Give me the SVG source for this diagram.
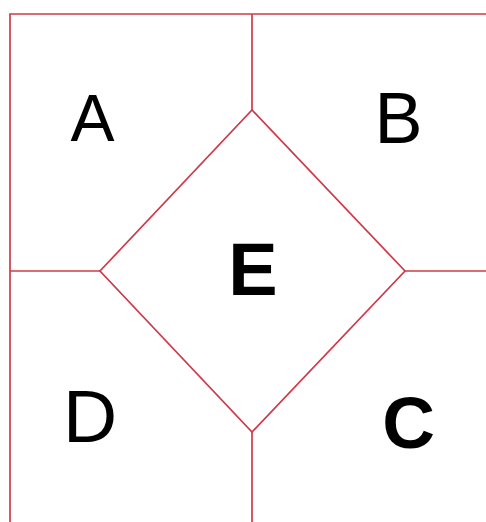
<svg xmlns="http://www.w3.org/2000/svg" width="486" height="522" viewBox="0 0 486 522">
<style>
.ln{stroke:#cf3a4a;stroke-width:1.7;fill:none;}
.t{font-family:"Liberation Sans",Arial,sans-serif;fill:#000;text-anchor:middle;}
.b{font-weight:bold;}
</style>
<rect width="486" height="522" fill="#fff"/>
<g id="connectors">
<path class="ln" d="M10,522 V14 H486"/>
<path class="ln" d="M252,14 V110"/>
<path class="ln" d="M252,432 V522"/>
<path class="ln" d="M10,271 H100"/>
<path class="ln" d="M405,271 H486"/>
</g>
<g id="E">
<path class="ln" d="M252,110 L405,271 L252,432 L100,271 Z"/>
<text class="t b" x="253" y="295" font-size="74">E</text>
</g>
<g id="A"><text class="t" x="92.5" y="141" font-size="66">A</text></g>
<g id="B"><text class="t" x="398.5" y="143" font-size="72">B</text></g>
<g id="C"><text class="t b" x="408.5" y="448" font-size="73">C</text></g>
<g id="D"><text class="t" x="90" y="442" font-size="75">D</text></g>
</svg>
